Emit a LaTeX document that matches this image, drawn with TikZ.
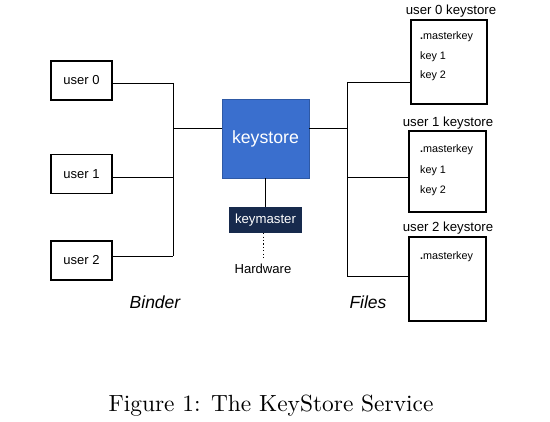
\documentclass[tikz,border=0pt]{standalone}
\usepackage{fontspec}
\setsansfont{Liberation Sans}
\newfontfamily\capfont{lmroman10-regular}[Extension=.otf]
\definecolor{ksblue}{RGB}{58,111,206}
\definecolor{kmnavy}{RGB}{23,42,77}
\begin{document}
\begin{tikzpicture}[x=1pt,y=-1pt,
  userbox/.style={draw,line width=1.1pt,minimum width=61pt,minimum height=39pt,inner sep=0pt,font=\sffamily\fontsize{13}{15}\selectfont},
  filebox/.style={draw,line width=1.8pt,inner sep=0pt},
  ftext/.style={anchor=west,inner sep=0pt,font=\sffamily\fontsize{10.8}{12}\selectfont},
  flabel/.style={inner sep=0pt,font=\sffamily\fontsize{13.2}{15}\selectfont},
  conn/.style={line width=0.8pt},
  side/.style={inner sep=0pt,font=\sffamily\itshape\fontsize{17.5}{20}\selectfont}]
\useasboundingbox (0,0) rectangle (550,422);
% users
\node[userbox] (u0) at (81.5,80.5) {user 0};
\node[userbox] (u1) at (81.5,174) {user 1};
\node[userbox] (u2) at (81.5,260.5) {user 2};
% keystore
\node[draw=ksblue!80!black,fill=ksblue,line width=0.6pt,minimum width=87pt,minimum height=79pt,inner sep=0pt,text=white,font=\sffamily\fontsize{17.7}{20}\selectfont] (ks) at (265.5,138.5) {keystore};
\node[fill=kmnavy,minimum width=73pt,minimum height=26pt,inner sep=0pt,text=white,font=\sffamily\fontsize{13.2}{15}\selectfont] (km) at (265.5,220) {keymaster};
\node[inner sep=0pt,font=\sffamily\fontsize{13.1}{15}\selectfont] (hw) at (263,269) {Hardware};
% bus coordinates
\coordinate (lb0) at (173,83);
\coordinate (lb1) at (173,177);
\coordinate (lb2) at (173,256);
\coordinate (lbk) at (173,128);
\coordinate (rbk) at (347,128);
\coordinate (rb0) at (347,82);
\coordinate (rb1) at (347,177);
\coordinate (rb2) at (347,276);
\coordinate (hwt) at (263,258);
% file boxes
\node[filebox,minimum width=76pt,minimum height=84pt] (k0) at (449,62) {};
\node[filebox,minimum width=77pt,minimum height=81pt] (k1) at (447.5,171.5) {};
\node[filebox,minimum width=77pt,minimum height=84pt] (k2) at (447.5,279) {};
\node[flabel] (l0) at (451,11) {user 0 keystore};
\node[flabel] (l1) at (448,123) {user 1 keystore};
\node[flabel] (l2) at (448,228) {user 2 keystore};
\node[ftext] (m0) at (420,37) {{\bfseries .}masterkey};
\node[ftext] (a0) at (420,57) {key 1};
\node[ftext] (b0) at (420,76) {key 2};
\node[ftext] (m1) at (420,150) {{\bfseries .}masterkey};
\node[ftext] (a1) at (420,171) {key 1};
\node[ftext] (b1) at (420,191) {key 2};
\node[ftext] (m2) at (420,257) {{\bfseries .}masterkey};
% side labels
\node[side] (binder) at (155,302) {Binder};
\node[side] (files) at (368,302) {Files};
% connectors left
\draw[conn] (u0.east |- lb0) -- (lb0);
\draw[conn] (u1.east |- lb1) -- (lb1);
\draw[conn] (u2.east |- lb2) -- (lb2);
\draw[conn] (lb0) -- (lb2);
\draw[conn] (lbk) -- (ks.west |- lbk);
% connectors right
\draw[conn] (ks.east |- rbk) -- (rbk);
\draw[conn] (rb0) -- (rb2);
\draw[conn] (rb0) -- (k0.west |- rb0);
\draw[conn] (rb1) -- (k1.west |- rb1);
\draw[conn] (rb2) -- (k2.west |- rb2);
% keystore to keymaster
\draw[conn] (ks.south) -- (km.north);
\draw[line width=1pt,dash pattern=on 1.2pt off 2.2pt] (km.south -| hwt) -- (hwt);
% caption
\node[anchor=base,inner sep=0pt,font=\capfont\fontsize{23.4}{26}\selectfont] (cap) at (271,412) {Figure 1: The KeyStore Service};
\end{tikzpicture}
\end{document}
